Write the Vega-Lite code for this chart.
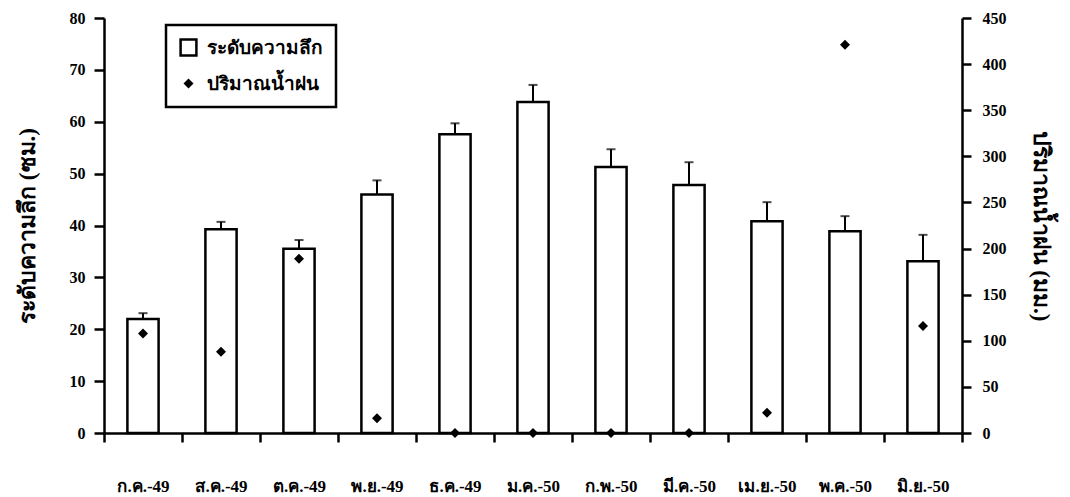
{
  "$schema": "https://vega.github.io/schema/vega-lite/v6.json",
  "width": 858,
  "height": 415,
  "autosize": "none",
  "padding": {"left": 104, "top": 18, "right": 108, "bottom": 64},
  "background": "white",
  "config": {
    "view": {"stroke": null},
    "axis": {
      "grid": false,
      "domainColor": "black",
      "domainWidth": 2.5,
      "tickColor": "black",
      "tickWidth": 2.5,
      "labelColor": "black",
      "labelFont": "Liberation Serif",
      "labelFontWeight": "bold",
      "labelFontSize": 16,
      "titleColor": "black",
      "titleFont": "Liberation Serif",
      "titleFontWeight": "bold",
      "titleFontSize": 23
    },
    "legend": {
      "title": null,
      "orient": "none",
      "legendX": 62,
      "legendY": 7,
      "padding": 13,
      "strokeColor": "black",
      "strokeWidth": 2.5,
      "labelFont": "Liberation Serif",
      "labelFontWeight": "bold",
      "labelFontSize": 19,
      "labelColor": "black",
      "labelOffset": 9,
      "rowPadding": 13
    }
  },
  "data": {
    "values": [
      {"month": "ก.ค.-49", "depth": 22.0, "upper": 23.1, "rain": 108, "legend": "ปริมาณน้ำฝน"},
      {"month": "ส.ค.-49", "depth": 39.3, "upper": 40.7, "rain": 88, "legend": "ปริมาณน้ำฝน"},
      {"month": "ต.ค.-49", "depth": 35.5, "upper": 37.2, "rain": 189, "legend": "ปริมาณน้ำฝน"},
      {"month": "พ.ย.-49", "depth": 46.0, "upper": 48.7, "rain": 16, "legend": "ปริมาณน้ำฝน"},
      {"month": "ธ.ค.-49", "depth": 57.6, "upper": 59.7, "rain": 0, "legend": "ปริมาณน้ำฝน"},
      {"month": "ม.ค.-50", "depth": 63.8, "upper": 67.1, "rain": 0, "legend": "ปริมาณน้ำฝน"},
      {"month": "ก.พ.-50", "depth": 51.3, "upper": 54.7, "rain": 0, "legend": "ปริมาณน้ำฝน"},
      {"month": "มี.ค.-50", "depth": 47.8, "upper": 52.2, "rain": 0, "legend": "ปริมาณน้ำฝน"},
      {"month": "เม.ย.-50", "depth": 40.8, "upper": 44.5, "rain": 22, "legend": "ปริมาณน้ำฝน"},
      {"month": "พ.ค.-50", "depth": 38.9, "upper": 41.8, "rain": 421, "legend": "ปริมาณน้ำฝน"},
      {"month": "มิ.ย.-50", "depth": 33.1, "upper": 38.2, "rain": 116, "legend": "ปริมาณน้ำฝน"}
    ]
  },
  "encoding": {
    "x": {
      "field": "month",
      "type": "nominal",
      "sort": null,
      "scale": {"paddingInner": 0, "paddingOuter": 0},
      "axis": {
        "title": null,
        "labelAngle": 0,
        "tickBand": "extent",
        "tickSize": 9,
        "labelPadding": 36,
        "labelFontSize": 17
      }
    }
  },
  "layer": [
    {
      "encoding": {
        "y": {
          "field": "depth",
          "type": "quantitative",
          "scale": {"domain": [0, 80], "nice": false},
          "axis": {
            "title": "ระดับความลึก (ซม.)",
            "values": [0, 10, 20, 30, 40, 50, 60, 70, 80],
            "tickSize": 10,
            "labelPadding": 9,
            "titlePadding": 30
          }
        }
      },
      "layer": [
        {
          "mark": {"type": "bar", "fill": "white", "stroke": "black", "strokeWidth": 2.5, "width": {"band": 0.4}}
        },
        {
          "mark": {"type": "rule", "color": "black", "strokeWidth": 2},
          "encoding": {"y2": {"field": "upper"}}
        },
        {
          "mark": {"type": "tick", "color": "black", "thickness": 2, "size": 9},
          "encoding": {"y": {"field": "upper", "type": "quantitative"}}
        }
      ]
    },
    {
      "mark": {"type": "point", "filled": true, "opacity": 1},
      "encoding": {
        "y": {
          "field": "rain",
          "type": "quantitative",
          "scale": {"domain": [0, 450], "nice": false},
          "axis": {
            "orient": "right",
            "title": "ปริมาณน้ำฝน (มม.)",
            "values": [0, 50, 100, 150, 200, 250, 300, 350, 400, 450],
            "tickSize": 9,
            "labelPadding": 11,
            "titlePadding": 22
          }
        },
        "shape": {
          "field": "legend",
          "type": "nominal",
          "scale": {"domain": ["ระดับความลึก", "ปริมาณน้ำฝน"], "range": ["square", "diamond"]}
        },
        "fill": {
          "field": "legend",
          "type": "nominal",
          "scale": {"domain": ["ระดับความลึก", "ปริมาณน้ำฝน"], "range": ["white", "black"]}
        },
        "stroke": {
          "field": "legend",
          "type": "nominal",
          "scale": {"domain": ["ระดับความลึก", "ปริมาณน้ำฝน"], "range": ["black", "black"]}
        },
        "size": {
          "field": "legend",
          "type": "nominal",
          "scale": {"domain": ["ระดับความลึก", "ปริมาณน้ำฝน"], "range": [250, 100]}
        },
        "strokeWidth": {
          "field": "legend",
          "type": "nominal",
          "scale": {"domain": ["ระดับความลึก", "ปริมาณน้ำฝน"], "range": [2.5, 0]}
        }
      }
    }
  ],
  "resolve": {"scale": {"y": "independent"}}
}
